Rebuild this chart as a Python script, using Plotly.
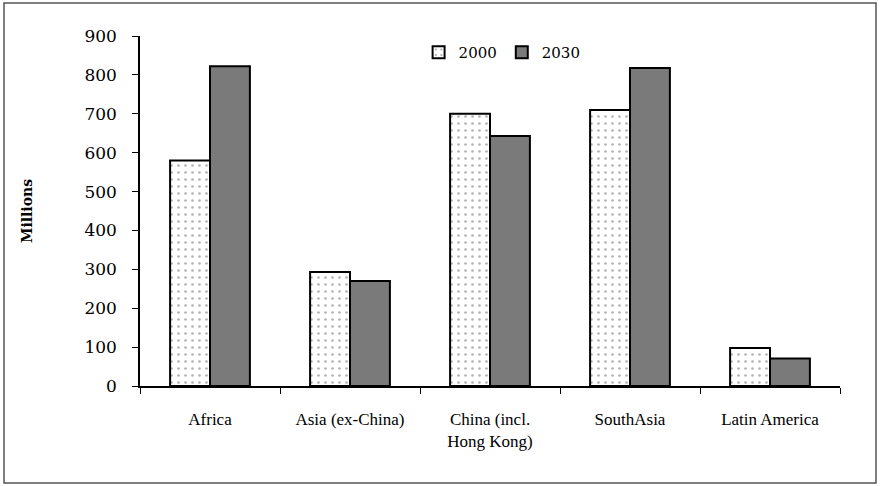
import plotly.graph_objects as go

categories = ["Africa", "Asia (ex-China)", "China (incl.<br>Hong Kong)", "SouthAsia", "Latin America"]
values_2000 = [580, 293, 700, 710, 98]
values_2030 = [822, 270, 643, 818, 71]
series_names = ["2000", "2030"]
y_ticks = [0, 100, 200, 300, 400, 500, 600, 700, 800, 900]

W0, H0 = 140, 36
PW, PH = 700, 350

fig = go.Figure()
fig.add_trace(go.Bar(
    x=categories, y=values_2000, name=series_names[0],
    marker=dict(color="white", line=dict(color="black", width=2),
                pattern=dict(shape=".", fgcolor="#666666", bgcolor="white",
                             size=7, solidity=0.12)),
))
fig.add_trace(go.Bar(
    x=categories, y=values_2030, name=series_names[1],
    marker=dict(color="#7a7a7a", line=dict(color="black", width=2)),
))

serif_wide = "DejaVu Serif, serif"
fig.update_layout(
    width=880, height=486,
    margin=dict(l=W0, r=880 - W0 - PW, t=H0, b=486 - H0 - PH),
    paper_bgcolor="white", plot_bgcolor="white",
    barmode="group", bargap=0.43, bargroupgap=0,
    showlegend=True,
    legend=dict(orientation="h", x=0.398, y=1.0, xanchor="left", yanchor="top",
                font=dict(family=serif_wide, size=15, color="black"),
                bgcolor="rgba(0,0,0,0)", itemwidth=30, tracegroupgap=0),
    font=dict(family="Liberation Serif, serif", color="black"),
    xaxis=dict(showline=True, linecolor="black", linewidth=1.5,
               ticks="outside", tickson="boundaries", ticklen=6, tickcolor="black",
               tickfont=dict(family="Liberation Serif, serif", size=17, color="black"),
               ticklabelstandoff=17, showgrid=False, zeroline=False),
    yaxis=dict(range=[0, 900], tickvals=y_ticks, showline=True, linecolor="black",
               linewidth=1.5, ticks="outside", ticklen=6, tickcolor="black",
               tickfont=dict(family=serif_wide, size=17, color="black"),
               ticklabelstandoff=12, showgrid=False, zeroline=False,
               title=dict(text="<b>Millions</b>", standoff=48,
                          font=dict(family=serif_wide, size=14, color="black"))),
    shapes=[dict(type="rect", xref="paper", yref="paper",
                 x0=(4 - W0) / PW, x1=(876 - W0) / PW,
                 y0=(H0 + PH - 483) / PH, y1=(H0 + PH - 3) / PH,
                 line=dict(color="#555555", width=1.5), fillcolor="rgba(0,0,0,0)",
                 layer="below")],
)

fig.write_html("out.html", config={"displayModeBar": False},
               post_script="document.body.style.margin='0';document.body.style.padding='0';")
